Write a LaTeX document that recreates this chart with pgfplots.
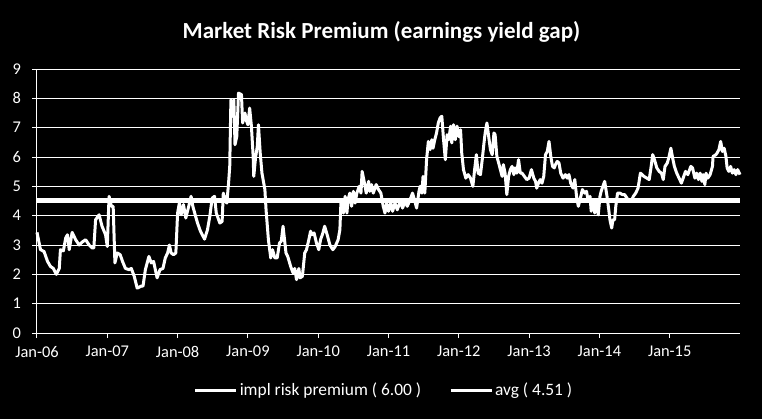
\documentclass[border=0pt]{standalone}
\usepackage{pgfplots}
\pgfplotsset{compat=1.18}
\usepackage{pgfplotstable}
\usepackage{fontspec}
\setmainfont{Carlito}
\pgfplotstableread{
m v
0.0 3.43
0.6 2.84
1.2 2.78
1.8 2.44
2.3 2.27
2.8 2.20
3.3 2.00
3.8 2.20
4.0 2.84
4.5 2.80
4.9 3.24
5.2 3.35
5.5 2.84
6.0 3.43
6.6 3.18
7.2 3.00
7.7 3.10
8.3 3.18
8.9 3.00
9.4 2.90
9.7 2.90
10.0 3.86
10.6 4.03
11.1 3.64
11.7 3.35
12.0 2.95
12.3 4.66
12.7 4.32
13.0 4.32
13.3 2.39
13.7 2.73
14.2 2.67
14.6 2.44
15.1 2.20
15.7 2.16
16.1 2.20
16.6 1.93
17.1 1.53
17.8 1.60
18.1 1.60
18.5 2.16
19.1 2.61
19.5 2.39
19.9 2.44
20.2 2.16
20.5 1.88
21.0 2.16
21.5 2.20
21.9 2.56
22.3 2.73
22.6 3.00
22.9 2.73
23.3 2.67
23.7 2.73
24.0 4.09
24.3 4.43
24.6 4.03
25.0 4.38
25.4 3.92
25.9 4.32
26.3 4.66
26.6 4.32
27.0 4.03
27.4 3.75
27.9 3.47
28.6 3.20
29.1 3.52
29.5 3.98
29.9 4.60
30.3 4.66
30.6 4.09
30.8 3.98
31.2 3.75
31.6 3.80
31.8 4.77
32.1 4.55
32.4 4.43
32.7 5.11
32.9 5.68
33.1 7.95
33.4 7.39
33.6 7.95
33.8 6.42
34.1 6.70
34.4 8.18
34.9 8.13
35.1 7.16
35.5 7.50
35.7 7.27
36.0 7.10
36.3 7.67
36.6 7.05
36.9 6.02
37.0 5.34
37.3 5.97
37.6 6.36
37.8 7.10
38.1 6.14
38.4 5.45
38.9 4.89
39.1 4.20
39.5 3.18
39.9 2.56
40.2 2.84
40.6 2.56
41.0 2.56
41.4 3.07
41.7 3.13
42.0 3.64
42.5 2.73
42.8 2.61
43.3 2.27
43.7 2.05
44.0 2.20
44.3 1.82
44.7 2.20
44.9 1.88
45.3 1.93
45.7 2.73
46.0 2.84
46.4 3.18
46.7 3.47
46.9 3.35
47.3 3.41
47.7 3.07
48.1 2.84
48.4 3.18
48.8 3.41
49.1 3.64
49.6 3.30
50.0 3.00
50.5 2.84
50.9 2.95
51.4 3.18
51.7 3.52
51.9 4.55
52.3 4.09
52.6 4.66
52.9 4.09
53.1 4.55
53.4 4.77
53.7 4.32
54.0 4.83
54.3 4.43
54.6 4.77
55.0 5.00
55.3 4.77
55.5 5.51
55.9 5.11
56.2 4.77
56.6 5.17
56.8 4.83
57.1 5.06
57.4 4.77
57.9 5.06
58.3 4.89
58.7 4.77
59.1 4.32
59.4 4.09
59.7 4.43
60.0 4.15
60.4 4.43
60.7 4.15
61.1 4.43
61.5 4.20
62.0 4.49
62.4 4.26
62.8 4.49
63.2 4.32
63.7 4.55
64.1 4.77
64.5 4.49
64.8 4.26
65.2 4.83
65.4 5.00
65.7 4.77
65.9 5.34
66.2 4.77
66.5 5.91
66.8 6.53
67.1 6.25
67.4 6.59
67.6 6.30
67.9 6.59
68.2 6.82
68.5 7.16
68.8 7.33
69.1 7.39
69.4 6.59
69.7 5.91
70.0 6.76
70.3 6.59
70.6 7.05
70.8 6.48
71.1 7.10
71.4 6.59
71.7 7.05
72.0 6.70
72.3 6.93
72.5 6.14
72.8 5.57
73.2 5.28
73.6 5.40
74.0 5.28
74.4 5.00
74.7 5.57
75.0 6.08
75.3 5.45
75.7 5.40
76.0 5.91
76.3 6.48
76.5 6.82
76.8 7.16
77.1 6.70
77.4 6.25
77.7 6.08
78.0 6.82
78.2 6.76
78.5 6.02
78.8 5.80
79.1 5.57
79.4 5.34
79.6 5.74
79.9 5.45
80.2 4.72
80.5 5.34
80.8 5.57
81.1 5.68
81.4 5.40
81.6 5.63
81.9 5.45
82.2 5.91
82.5 5.45
82.8 5.45
83.2 5.34
83.6 5.23
84.0 5.28
84.4 5.57
84.8 5.28
85.1 5.17
85.3 4.94
85.6 5.11
85.9 5.23
86.2 5.11
86.5 5.34
86.8 6.08
87.1 6.19
87.4 6.53
87.7 6.02
88.0 5.68
88.3 5.63
88.5 5.74
88.8 5.85
89.1 5.80
89.4 5.45
89.8 5.28
90.2 5.40
90.5 5.28
90.8 5.40
91.1 5.11
91.5 4.94
91.8 5.23
92.1 4.66
92.4 4.32
92.7 4.55
93.1 4.89
93.5 4.77
93.8 4.83
94.1 4.49
94.4 4.66
94.6 4.15
95.0 4.49
95.2 4.09
95.5 4.55
95.8 4.03
96.1 4.66
96.3 4.83
96.7 5.06
96.9 5.17
97.3 4.66
97.6 4.20
97.8 3.86
98.1 3.58
98.3 3.86
98.6 3.86
98.8 4.32
99.1 4.77
99.5 4.77
99.9 4.72
100.3 4.72
100.7 4.60
101.1 4.49
101.4 4.49
101.8 4.66
102.2 4.77
102.6 4.94
103.0 5.45
103.3 5.40
103.6 5.34
104.1 5.28
104.5 5.23
104.8 5.63
105.1 6.08
105.4 5.91
105.8 5.63
106.2 5.51
106.6 5.45
106.9 5.23
107.2 5.68
107.6 5.80
107.9 6.02
108.2 6.30
108.5 5.97
108.8 5.68
109.2 5.45
109.6 5.28
110.0 5.11
110.4 5.34
110.7 5.51
111.1 5.40
111.6 5.68
111.9 5.63
112.3 5.28
112.6 5.45
112.9 5.23
113.2 5.45
113.5 5.17
113.7 5.40
114.0 5.06
114.2 5.45
114.5 5.28
114.9 5.40
115.3 5.68
115.4 6.02
115.9 6.08
116.1 6.14
116.4 6.25
116.7 6.53
117.0 6.19
117.3 6.30
117.6 6.02
117.8 5.63
118.1 5.51
118.4 5.68
118.7 5.45
119.0 5.57
119.3 5.40
119.6 5.57
120.0 5.40
}\riskdata
\begin{document}
\begin{tikzpicture}
\path[use as bounding box, fill=black] (0,0) rectangle (381pt,209.5pt);
\node[text=white, font=\bfseries\fontsize{11.5pt}{13pt}\selectfont] at (190.75pt,193.5pt) {Market Risk Premium (earnings yield gap)};
\begin{axis}[
  at={(18.5pt,43pt)}, anchor=south west,
  scale only axis, width=351.5pt, height=132pt,
  xmin=0, xmax=120, ymin=0, ymax=9,
  axis x line=bottom, axis y line=left,
  axis line style={white, line width=0.5pt, -},
  xtick={0,12,24,36,48,60,72,84,96,108},
  xticklabels={Jan-06,Jan-07,Jan-08,Jan-09,Jan-10,Jan-11,Jan-12,Jan-13,Jan-14,Jan-15},
  ytick={0,1,2,3,4,5,6,7,8,9},
  tick align=outside, major tick length=2.5pt,
  tick style={white, line width=0.5pt},
  ymajorgrids, grid style={white, line width=0.5pt},
  ticklabel style={text=white, font=\fontsize{8.2pt}{9pt}\selectfont},
  /pgf/number format/assume math mode=true,
  xticklabel style={yshift=-0.5pt},
  yticklabel style={xshift=-2pt},
  clip=false,
  legend style={at={(0.4936,-0.2186)}, anchor=center, draw=none, fill=black,
    text=white, font=\fontsize{8.7pt}{10pt}\selectfont, legend columns=2,
    nodes={inner sep=1pt},
    /tikz/every even column/.append style={column sep=13pt}},
  legend image code/.code={\draw[#1, line width=1.5pt] (0pt,0pt) -- (20.5pt,0pt);},
]
\addplot[white, line width=1.5pt, line join=round] table[x=m, y=v] {\riskdata};
\addlegendentry{impl risk premium ( 6.00 )}
\addplot[white, line width=2.4pt] coordinates {(0,4.51) (120,4.51)};
\addlegendentry{avg ( 4.51 )}
\end{axis}
\end{tikzpicture}
\end{document}
